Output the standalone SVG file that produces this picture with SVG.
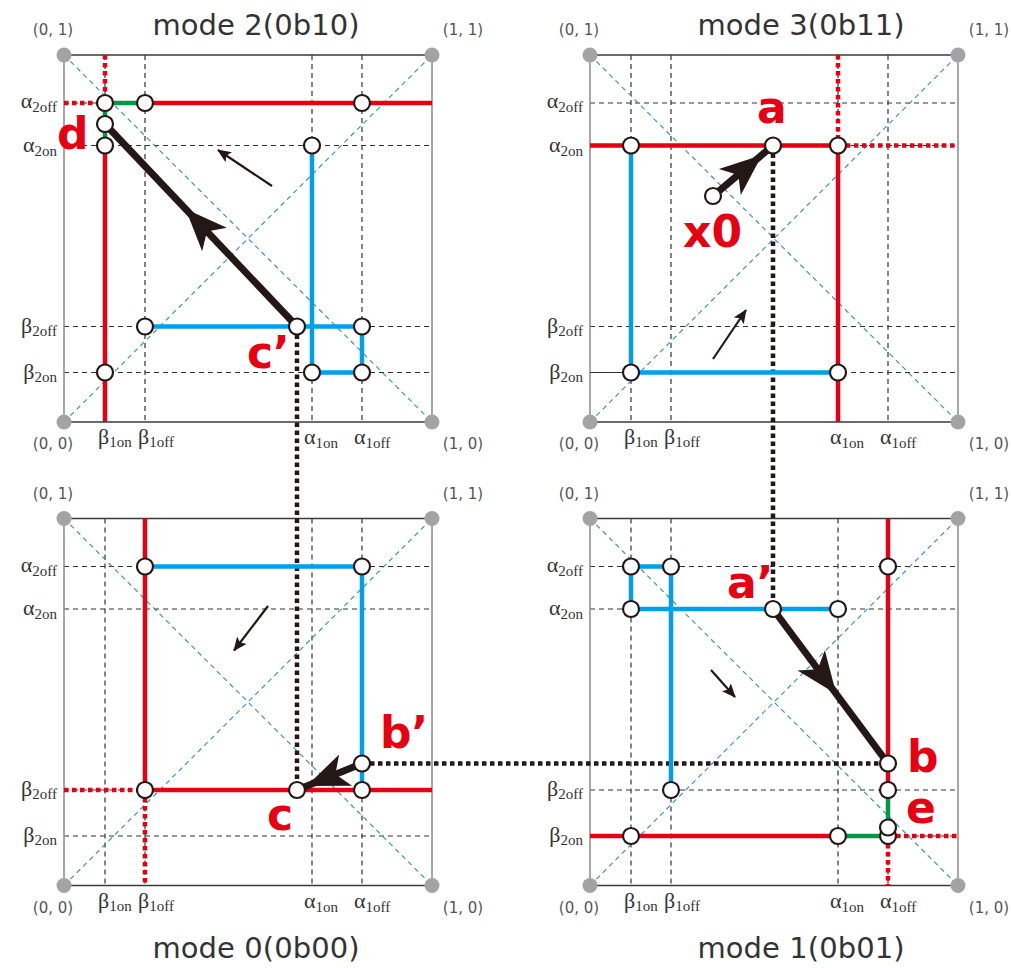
<svg xmlns="http://www.w3.org/2000/svg" xmlns:xlink="http://www.w3.org/1999/xlink" width="1011" height="968" viewBox="0 0 1011 968">
  <style>
    .frameH { stroke: #3a3a3a; stroke-width: 1.5; }
    .frameV { stroke: #8a8a8a; stroke-width: 1.5; }
    .grid { stroke: #333; stroke-width: 1.2; stroke-dasharray: 5 4; fill: none; }
    .diag { stroke: #2f8ad0; stroke-width: 1.1; stroke-dasharray: 5 4; fill: none; }
    .thin { stroke: #333; stroke-width: 1.2; }
    .red { stroke: #e60012; stroke-width: 4.5; fill: none; }
    .redDot { stroke: #e60012; stroke-width: 4.5; stroke-dasharray: 4.5 3.5; fill: none; }
    .blue { stroke: #00a0e9; stroke-width: 4.5; fill: none; }
    .green { stroke: #009944; stroke-width: 4.5; fill: none; }
    .traj { stroke: #231815; stroke-width: 7; fill: none; }
    .link { stroke: #231815; stroke-width: 4.5; stroke-dasharray: 4.5 3.5; fill: none; }
    .hint { stroke: #231815; stroke-width: 2.2; fill: none; marker-end: url(#hintHead); }
    .pt { fill: #fff; stroke: #231815; stroke-width: 2.2; }
    .corner { fill: #a3a3a3; }
    .ax { font-family: "Liberation Serif", "Times New Roman", serif; font-size: 22px; fill: #333; }
    .ax .sub { font-size: 15px; }
    .cl { font-family: "DejaVu Sans", sans-serif; font-size: 15px; fill: #555; text-anchor: middle; }
    .title { font-family: "DejaVu Sans", sans-serif; font-size: 29px; fill: #333; text-anchor: middle; }
    .tag { font-family: "DejaVu Sans", sans-serif; font-weight: bold; font-size: 44px; fill: #e60012; }
  </style>
  <defs>
    <marker id="hintHead" viewBox="0 0 14 12" refX="13" refY="6" markerWidth="14" markerHeight="12" markerUnits="userSpaceOnUse" orient="auto">
      <path d="M0,0 L14,6 L0,12 L3,6 Z" fill="#231815"/>
    </marker>
    <path id="bigHead" d="M0,0 L-42,-17 L-31,0 L-42,17 Z" fill="#231815"/>
    <!-- common chart frame: grid, diagonals, frame, corner dots, axis labels -->
    <g id="frame">
      <g class="grid">
        <line x1="41" y1="0" x2="41" y2="367"/>
        <line x1="81" y1="0" x2="81" y2="367"/>
        <line x1="248" y1="0" x2="248" y2="367"/>
        <line x1="298" y1="0" x2="298" y2="367"/>
        <line x1="0" y1="48" x2="368" y2="48"/>
        <line x1="0" y1="90.5" x2="368" y2="90.5"/>
        <line x1="0" y1="271.5" x2="368" y2="271.5"/>
        <line x1="0" y1="317.5" x2="368" y2="317.5"/>
      </g>
      <line class="diag" x1="0" y1="0" x2="368" y2="367"/>
      <line class="diag" x1="0" y1="367" x2="368" y2="0"/>
      <line class="frameH" x1="0" y1="0" x2="368" y2="0"/>
      <line class="frameH" x1="0" y1="367" x2="368" y2="367"/>
      <line class="frameV" x1="0" y1="0" x2="0" y2="367"/>
      <line class="frameV" x1="368" y1="0" x2="368" y2="367"/>
      <circle class="corner" cx="0" cy="0" r="7.5"/>
      <circle class="corner" cx="368" cy="0" r="7.5"/>
      <circle class="corner" cx="0" cy="367" r="7.5"/>
      <circle class="corner" cx="368" cy="367" r="7.5"/>
      <text class="cl" x="-11" y="-20">(0, 1)</text>
      <text class="cl" x="399" y="-20">(1, 1)</text>
      <text class="cl" x="-11" y="394">(0, 0)</text>
      <text class="cl" x="399" y="394">(1, 0)</text>
      <text class="ax" x="-7" y="53" text-anchor="end">α<tspan class="sub" dy="4">2off</tspan></text>
      <text class="ax" x="-7" y="96.5" text-anchor="end">α<tspan class="sub" dy="4">2on</tspan></text>
      <text class="ax" x="-7" y="277.5" text-anchor="end">β<tspan class="sub" dy="3">2off</tspan></text>
      <text class="ax" x="-7" y="323.5" text-anchor="end">β<tspan class="sub" dy="3">2on</tspan></text>
      <text class="ax" x="34" y="389">β<tspan class="sub" dy="3">1on</tspan></text>
      <text class="ax" x="74" y="389">β<tspan class="sub" dy="3">1off</tspan></text>
      <text class="ax" x="240" y="389">α<tspan class="sub" dy="4">1on</tspan></text>
      <text class="ax" x="290" y="389">α<tspan class="sub" dy="4">1off</tspan></text>
    </g>
  </defs>

  <rect width="1011" height="968" fill="#fff"/>

  <!-- titles -->
  <text class="title" x="256" y="35" textLength="207">mode 2(0b10)</text>
  <text class="title" x="801" y="35" textLength="207">mode 3(0b11)</text>
  <text class="title" x="256" y="958" textLength="207">mode 0(0b00)</text>
  <text class="title" x="801" y="958" textLength="207">mode 1(0b01)</text>

  <!-- chart frames -->
  <use xlink:href="#frame" transform="translate(64,55)"/>
  <use xlink:href="#frame" transform="translate(590,55)"/>
  <use xlink:href="#frame" transform="translate(64,518.5)"/>
  <use xlink:href="#frame" transform="translate(590,518.5)"/>

  <!-- links between modes -->
  <g id="connectors">
    <line class="link" x1="297" y1="326.5" x2="297" y2="790"/>
    <line class="link" x1="773" y1="145.5" x2="773" y2="609"/>
    <line class="link" x1="362" y1="763.5" x2="888" y2="763.5"/>
  </g>

  <!-- mode 2 -->
  <g id="mode2" transform="translate(64,55)">
    <line class="redDot" x1="41" y1="0" x2="41" y2="48"/>
    <line class="redDot" x1="0" y1="48" x2="41" y2="48"/>
    <line class="red" x1="81" y1="48" x2="368" y2="48"/>
    <line class="red" x1="41" y1="90.5" x2="41" y2="367"/>
    <line class="green" x1="41" y1="48" x2="81" y2="48"/>
    <line class="green" x1="41" y1="48" x2="41" y2="90.5"/>
    <path class="blue" d="M248,90.5 V317.5 H298 V271.5 H81"/>
    <line class="traj" x1="233" y1="271.5" x2="41" y2="69"/>
    <use xlink:href="#bigHead" transform="translate(121.6,154) rotate(-133.5)"/>
    <line class="hint" x1="208" y1="131" x2="154" y2="95"/>
    <g id="mode2-points">
      <circle class="pt" cx="41" cy="48" r="8"/>
      <circle class="pt" cx="81" cy="48" r="8"/>
      <circle class="pt" cx="298" cy="48" r="8"/>
      <circle class="pt" cx="41" cy="69" r="8"/>
      <circle class="pt" cx="41" cy="90.5" r="8"/>
      <circle class="pt" cx="248" cy="90.5" r="8"/>
      <circle class="pt" cx="81" cy="271.5" r="8"/>
      <circle class="pt" cx="233" cy="271.5" r="8"/>
      <circle class="pt" cx="298" cy="271.5" r="8"/>
      <circle class="pt" cx="41" cy="317.5" r="8"/>
      <circle class="pt" cx="248" cy="317.5" r="8"/>
      <circle class="pt" cx="298" cy="317.5" r="8"/>
    </g>
    <text class="tag" x="-7" y="94">d</text>
    <text class="tag" x="183" y="313">c’</text>
  </g>

  <!-- mode 3 -->
  <g id="mode3" transform="translate(590,55)">
    <line class="thin" x1="0" y1="317.5" x2="41" y2="317.5"/>
    <line class="red" x1="0" y1="90.5" x2="248" y2="90.5"/>
    <line class="redDot" x1="248" y1="90.5" x2="368" y2="90.5"/>
    <line class="redDot" x1="248" y1="0" x2="248" y2="90.5"/>
    <line class="red" x1="248" y1="90.5" x2="248" y2="367"/>
    <path class="blue" d="M41,90.5 V317.5 H248"/>
    <line class="traj" x1="123" y1="141" x2="183" y2="90.5"/>
    <use xlink:href="#bigHead" transform="translate(172,100) rotate(-40.1)"/>
    <line class="hint" x1="123" y1="304" x2="156" y2="255"/>
    <g id="mode3-points">
      <circle class="pt" cx="41" cy="90.5" r="8"/>
      <circle class="pt" cx="183" cy="90.5" r="8"/>
      <circle class="pt" cx="248" cy="90.5" r="8"/>
      <circle class="pt" cx="41" cy="317.5" r="8"/>
      <circle class="pt" cx="248" cy="317.5" r="8"/>
      <circle class="pt" cx="123" cy="141" r="8"/>
    </g>
    <text class="tag" x="167" y="68">a</text>
    <text class="tag" x="93" y="192">x0</text>
  </g>

  <!-- mode 0 -->
  <g id="mode0" transform="translate(64,518.5)">
    <line class="red" x1="81" y1="0" x2="81" y2="271.5"/>
    <line class="redDot" x1="81" y1="271.5" x2="81" y2="367"/>
    <line class="redDot" x1="0" y1="271.5" x2="81" y2="271.5"/>
    <line class="red" x1="81" y1="271.5" x2="368" y2="271.5"/>
    <path class="blue" d="M81,48 H298 V271.5"/>
    <line class="traj" x1="298" y1="245" x2="233" y2="271.5"/>
    <use xlink:href="#bigHead" transform="translate(242.7,267.5) rotate(157.8)"/>
    <line class="hint" x1="204" y1="87.5" x2="170" y2="132"/>
    <g id="mode0-points">
      <circle class="pt" cx="81" cy="48" r="8"/>
      <circle class="pt" cx="298" cy="48" r="8"/>
      <circle class="pt" cx="81" cy="271.5" r="8"/>
      <circle class="pt" cx="233" cy="271.5" r="8"/>
      <circle class="pt" cx="298" cy="271.5" r="8"/>
      <circle class="pt" cx="298" cy="245" r="8"/>
    </g>
    <text class="tag" x="316" y="229.5">b’</text>
    <text class="tag" x="203" y="311.5">c</text>
  </g>

  <!-- mode 1 -->
  <g id="mode1" transform="translate(590,518.5)">
    <path class="blue" d="M81,271.5 V48 H41 V90.5 H248"/>
    <line class="red" x1="298" y1="0" x2="298" y2="271.5"/>
    <line class="green" x1="298" y1="271.5" x2="298" y2="317.5"/>
    <line class="red" x1="0" y1="317.5" x2="248" y2="317.5"/>
    <line class="green" x1="248" y1="317.5" x2="298" y2="317.5"/>
    <line class="redDot" x1="298" y1="317.5" x2="368" y2="317.5"/>
    <line class="redDot" x1="298" y1="317.5" x2="298" y2="367"/>
    <line class="traj" x1="183" y1="90.5" x2="298" y2="245"/>
    <use xlink:href="#bigHead" transform="translate(246.3,175.5) rotate(53.3)"/>
    <line class="hint" x1="121" y1="151.5" x2="145" y2="178.5"/>
    <g id="mode1-points">
      <circle class="pt" cx="41" cy="48" r="8"/>
      <circle class="pt" cx="81" cy="48" r="8"/>
      <circle class="pt" cx="298" cy="48" r="8"/>
      <circle class="pt" cx="41" cy="90.5" r="8"/>
      <circle class="pt" cx="183" cy="90.5" r="8"/>
      <circle class="pt" cx="248" cy="90.5" r="8"/>
      <circle class="pt" cx="298" cy="245" r="8"/>
      <circle class="pt" cx="298" cy="271.5" r="8"/>
      <circle class="pt" cx="81" cy="271.5" r="8"/>
      <circle class="pt" cx="41" cy="317.5" r="8"/>
      <circle class="pt" cx="248" cy="317.5" r="8"/>
      <circle class="pt" cx="298" cy="317.5" r="8"/>
      <circle class="pt" cx="298" cy="309" r="8"/>
    </g>
    <text class="tag" x="137" y="79.5">a’</text>
    <text class="tag" x="317" y="253.5">b</text>
    <text class="tag" x="316" y="304.5">e</text>
  </g>
</svg>
